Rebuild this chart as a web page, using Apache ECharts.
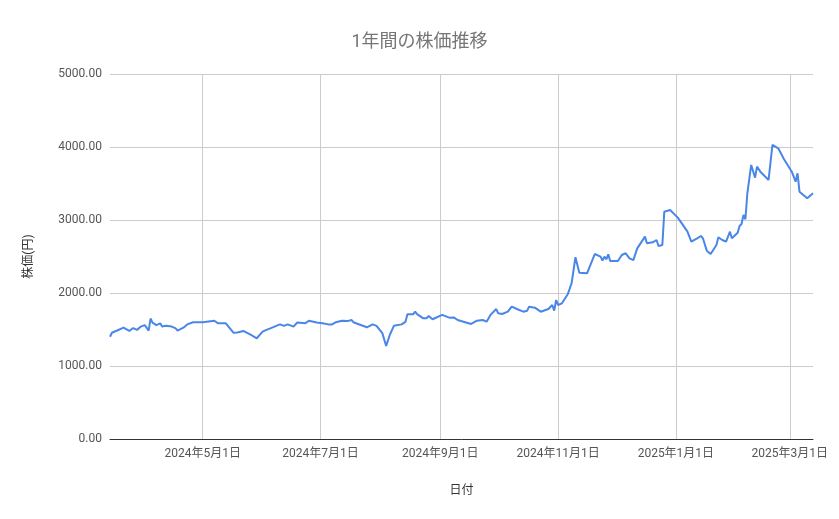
<!DOCTYPE html>
<html>
<head>
<meta charset="utf-8">
<script src="https://cdn.jsdelivr.net/npm/echarts@6/dist/echarts.min.js"></script>
<style>
	html, body { margin: 0; padding: 0; background: #fff; }
	#chart { width: 839px; height: 519px; }
</style>
</head>
<body>
<div id="chart"></div>
<script type="text/javascript">
	// 日付と株価
	var dates = [
		'2024-03-14','2024-03-15','2024-03-18','2024-03-21','2024-03-24','2024-03-26','2024-03-28','2024-03-30',
		'2024-04-01','2024-04-03','2024-04-04','2024-04-05','2024-04-07','2024-04-09','2024-04-10','2024-04-12',
		'2024-04-15','2024-04-17','2024-04-18','2024-04-21','2024-04-23','2024-04-24','2024-04-26',
		'2024-05-01','2024-05-02','2024-05-07','2024-05-09','2024-05-13','2024-05-17','2024-05-19','2024-05-22',
		'2024-05-26','2024-05-29',
		'2024-06-01','2024-06-03','2024-06-05','2024-06-06','2024-06-10','2024-06-12','2024-06-14','2024-06-17',
		'2024-06-19','2024-06-20','2024-06-23','2024-06-25','2024-06-29',
		'2024-07-02','2024-07-05','2024-07-07','2024-07-09','2024-07-12','2024-07-15','2024-07-17','2024-07-18',
		'2024-07-25','2024-07-28','2024-07-30',
		'2024-08-02','2024-08-04','2024-08-06','2024-08-07','2024-08-08','2024-08-12','2024-08-14','2024-08-15',
		'2024-08-18','2024-08-19','2024-08-20','2024-08-23','2024-08-25','2024-08-26','2024-08-28',
		'2024-09-02','2024-09-06','2024-09-08','2024-09-10','2024-09-11','2024-09-13','2024-09-17','2024-09-20',
		'2024-09-23','2024-09-25','2024-09-27','2024-09-30',
		'2024-10-01','2024-10-03','2024-10-06','2024-10-08','2024-10-11','2024-10-14','2024-10-16','2024-10-17',
		'2024-10-20','2024-10-23','2024-10-24','2024-10-27','2024-10-29','2024-10-30','2024-10-31',
		'2024-11-01','2024-11-03','2024-11-06','2024-11-08','2024-11-10','2024-11-12','2024-11-13','2024-11-16',
		'2024-11-17','2024-11-20','2024-11-23','2024-11-24','2024-11-25','2024-11-26','2024-11-27','2024-11-28',
		'2024-12-02','2024-12-04','2024-12-06','2024-12-08','2024-12-10','2024-12-12','2024-12-16','2024-12-17',
		'2024-12-20','2024-12-22','2024-12-23','2024-12-25','2024-12-26','2024-12-29',
		'2025-01-02','2025-01-07','2025-01-09','2025-01-12','2025-01-14','2025-01-15','2025-01-17','2025-01-19',
		'2025-01-22','2025-01-23','2025-01-25','2025-01-27','2025-01-29','2025-01-30',
		'2025-02-02','2025-02-03','2025-02-04','2025-02-05','2025-02-06','2025-02-07','2025-02-09','2025-02-11',
		'2025-02-12','2025-02-14','2025-02-18','2025-02-19','2025-02-20','2025-02-23','2025-02-26',
		'2025-03-02','2025-03-04','2025-03-05','2025-03-06','2025-03-10','2025-03-11','2025-03-13'
	];

	var prices = [
		1400,1455,1490,1525,1480,1520,1495,1540,
		1560,1485,1650,1595,1560,1585,1540,1550,
		1540,1515,1485,1525,1570,1595,1600,
		1598,1585,1620,1585,1585,1455,1460,1480,
		1425,1380,
		1470,1495,1515,1500,1570,1550,1570,1540,
		1595,1570,1585,1620,1595,
		1585,1570,1570,1600,1620,1615,1630,1600,
		1530,1570,1550,
		1450,1275,1435,1455,1550,1570,1605,1710,
		1710,1745,1710,1655,1655,1685,1640,
		1700,1660,1665,1630,1648,1607,1576,1620,
		1630,1607,1700,1780,
		1722,1712,1745,1813,1777,1744,1758,1813,
		1799,1744,1731,1781,1836,1758,1904,
		1836,1859,1982,2133,2490,2278,2256,2270,
		2283,2534,2498,2443,2498,2462,2530,2439,
		2439,2521,2544,2475,2450,2612,2772,2681,
		2694,2726,2644,2658,3114,3137,
		3032,2840,2703,2749,2781,2749,2580,2534,
		2658,2763,2726,2703,2840,2749,
		2826,2918,2946,3069,3010,3366,3754,3580,
		3731,3653,3548,3535,4028,3982,3831,
		3662,3525,3640,3388,3297,3297,3366
	];

	var yTicks = { min: 0, max: 5000, interval: 1000 };

	var fontFamily = "Roboto, 'Noto Sans CJK JP', sans-serif";

	function fmtDate(v) {
		var d = new Date(v);
		return d.getFullYear() + '年' + (d.getMonth() + 1) + '月' + d.getDate() + '日';
	}

	var seriesData = dates.map(function (d, i) {
		return [d, prices[i]];
	});

	var chart = echarts.init(document.getElementById('chart'));
	chart.setOption({
		backgroundColor: '#fff',
		animation: false,
		textStyle: { fontFamily: fontFamily },
		title: {
			text: '1年間の株価推移',
			left: 'center',
			top: 29,
			textStyle: { fontSize: 18, fontWeight: 'normal', color: '#757575', fontFamily: fontFamily }
		},
		grid: { left: 110, right: 26, top: 74, bottom: 80, containLabel: false },
		xAxis: {
			type: 'time',
			min: dates[0],
			max: dates[dates.length - 1],
			minInterval: 65 * 24 * 3600 * 1000,
			maxInterval: 65 * 24 * 3600 * 1000,
			name: '日付',
			nameLocation: 'middle',
			nameGap: 46,
			nameTextStyle: { fontSize: 12, color: '#333' },
			axisLine: { show: true, lineStyle: { color: '#333', width: 1 } },
			axisTick: { show: false },
			axisLabel: {
				color: '#555',
				fontSize: 12,
				margin: 9,
				showMinLabel: false,
				showMaxLabel: false,
				hideOverlap: false,
				formatter: function (v) { return fmtDate(v); }
			},
			splitLine: { show: true, showMinLine: false, showMaxLine: false, lineStyle: { color: '#ccc', width: 1 } }
		},
		yAxis: {
			type: 'value',
			min: yTicks.min,
			max: yTicks.max,
			interval: yTicks.interval,
			name: '株価(円)',
			nameLocation: 'middle',
			nameGap: 75,
			nameRotate: 90,
			nameTextStyle: { fontSize: 12, color: '#333' },
			axisLine: { show: false },
			axisTick: { show: false },
			axisLabel: {
				color: '#555',
				fontSize: 12,
				margin: 8,
				formatter: function (v) { return v.toFixed(2); }
			},
			splitLine: { show: true, lineStyle: { color: '#ccc', width: 1 } }
		},
		series: [
			{
				name: '株価',
				type: 'line',
				data: seriesData,
				showSymbol: false,
				symbol: 'none',
				lineStyle: { color: '#4a86e8', width: 2 },
				itemStyle: { color: '#4a86e8' }
			}
		]
	});
</script>
</body>
</html>
